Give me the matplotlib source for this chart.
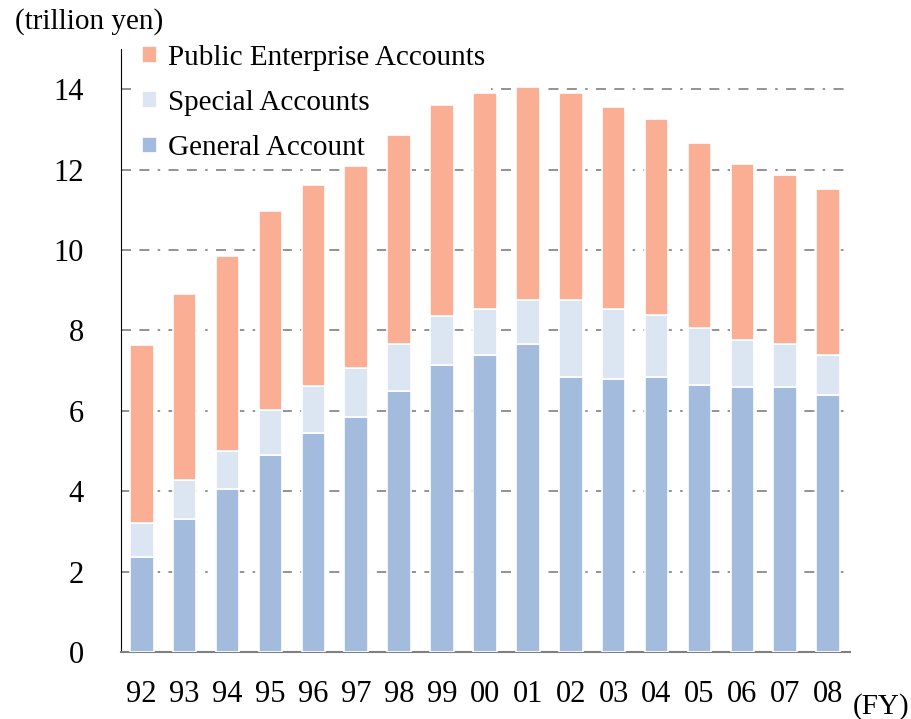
import matplotlib.pyplot as plt
import numpy as np

years = ["92", "93", "94", "95", "96", "97", "98", "99", "00",
         "01", "02", "03", "04", "05", "06", "07", "08"]
# trillion yen
general = [2.37, 3.31, 4.06, 4.91, 5.45, 5.85, 6.50, 7.15, 7.40,
           7.65, 6.85, 6.80, 6.85, 6.65, 6.60, 6.60, 6.40]
special = [0.85, 0.96, 0.95, 1.10, 1.16, 1.21, 1.15, 1.20, 1.14,
           1.10, 1.90, 1.74, 1.54, 1.40, 1.15, 1.05, 1.00]
public = [4.41, 4.64, 4.85, 4.95, 5.00, 5.04, 5.20, 5.25, 5.36,
          5.30, 5.15, 5.01, 4.86, 4.60, 4.40, 4.21, 4.11]

c_general = "#A3BBDC"
c_special = "#DCE6F2"
c_public = "#FAAF94"

plt.rcParams["font.family"] = ["Liberation Serif", "DejaVu Sans"]

fig = plt.figure(figsize=(9.12, 7.19), dpi=100)
ax = fig.add_axes([121.3 / 912, (719 - 652) / 719, (850 - 121.3) / 912, (652 - 49) / 719])

x = np.arange(len(years))
g = np.array(general)
s = np.array(special)
p = np.array(public)
w = 0.55
kw = dict(width=w, edgecolor="white", linewidth=1.2, zorder=3)
ax.bar(x, g, color=c_general, label="General Account", **kw)
ax.bar(x, s, bottom=g, color=c_special, label="Special Accounts", **kw)
ax.bar(x, p, bottom=g + s, color=c_public, label="Public Enterprise Accounts", **kw)

ax.set_xlim(-0.476, 16.51)
ax.set_ylim(0, 15)
ax.set_yticks(range(0, 15, 2))
ax.set_xticks(x)
ax.set_xticklabels(years)
for yv in range(2, 15, 2):
    ax.axhline(yv, color="#808080", linewidth=1.2, linestyle=(0, (6, 5, 6, 5, 1.5, 5)), zorder=1)

ax.spines["top"].set_visible(False)
ax.spines["right"].set_visible(False)
ax.spines["left"].set_color("black")
ax.spines["bottom"].set_color("#808080")
ax.spines["bottom"].set_linewidth(1.5)
ax.tick_params(axis="x", length=0, pad=20, labelsize=22)
ax.tick_params(axis="y", length=0, pad=27, labelsize=22)

# white box behind the legend hides the top gridline (but not the bars)
handles, labels = ax.get_legend_handles_labels()
leg = ax.legend(handles[::-1], labels[::-1], loc="upper left",
                bbox_to_anchor=(0.0204, 1.0166), frameon=True, fontsize=21,
                borderpad=0.2, borderaxespad=0, fancybox=False,
                handlelength=0.51, handleheight=0.51, handletextpad=0.38,
                labelspacing=0.66)
leg.get_frame().set_facecolor("white")
leg.get_frame().set_edgecolor("none")
leg.get_frame().set_alpha(1)
leg.set_zorder(2)

fig.text(15 / 912, 1 - 22 / 719, "(trillion yen)", fontsize=21, va="center", ha="left")
fig.text(853 / 912, 1 - 707 / 719, "(FY)", fontsize=21, va="center", ha="left")

fig.savefig("out.png", dpi=100)
